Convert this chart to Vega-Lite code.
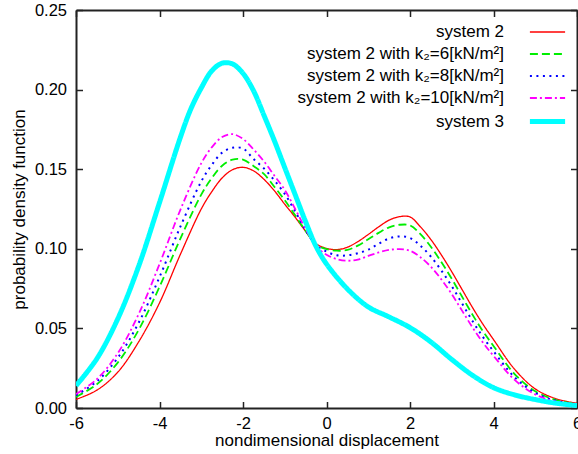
{
  "$schema": "https://vega.github.io/schema/vega-lite/v6.json",
  "width": 501,
  "height": 398,
  "autosize": "none",
  "padding": {"left": 76, "top": 10, "right": 1, "bottom": 46},
  "background": "white",
  "config": {
    "font": "Liberation Sans",
    "view": {"stroke": null},
    "axis": {
      "grid": false,
      "domainColor": "#222222",
      "domainWidth": 2,
      "tickColor": "#222222",
      "tickWidth": 1.5,
      "tickSize": -6.5,
      "labelFontSize": 16.5,
      "labelColor": "#000000",
      "titleFontSize": 17,
      "titleFontWeight": "normal",
      "titleColor": "#000000",
      "labelFlush": false,
      "labelOverlap": false
    }
  },
  "data": {
    "values": [
      {"s": "system 2", "x": -6, "y": 0.0054},
      {"s": "system 2", "x": -5.5, "y": 0.0112},
      {"s": "system 2", "x": -5, "y": 0.0225},
      {"s": "system 2", "x": -4.5, "y": 0.0415},
      {"s": "system 2", "x": -4, "y": 0.066},
      {"s": "system 2", "x": -3.5, "y": 0.0965},
      {"s": "system 2", "x": -3, "y": 0.125},
      {"s": "system 2", "x": -2.75, "y": 0.1358},
      {"s": "system 2", "x": -2.5, "y": 0.1445},
      {"s": "system 2", "x": -2.25, "y": 0.1497},
      {"s": "system 2", "x": -2, "y": 0.1512},
      {"s": "system 2", "x": -1.75, "y": 0.149},
      {"s": "system 2", "x": -1.5, "y": 0.1437},
      {"s": "system 2", "x": -1.25, "y": 0.1365},
      {"s": "system 2", "x": -1, "y": 0.128},
      {"s": "system 2", "x": -0.75, "y": 0.1198},
      {"s": "system 2", "x": -0.5, "y": 0.111},
      {"s": "system 2", "x": -0.25, "y": 0.1032},
      {"s": "system 2", "x": 0, "y": 0.1003},
      {"s": "system 2", "x": 0.25, "y": 0.0995},
      {"s": "system 2", "x": 0.5, "y": 0.101},
      {"s": "system 2", "x": 0.75, "y": 0.1045},
      {"s": "system 2", "x": 1, "y": 0.109},
      {"s": "system 2", "x": 1.25, "y": 0.1138},
      {"s": "system 2", "x": 1.5, "y": 0.118},
      {"s": "system 2", "x": 1.75, "y": 0.1202},
      {"s": "system 2", "x": 2, "y": 0.12},
      {"s": "system 2", "x": 2.25, "y": 0.1138},
      {"s": "system 2", "x": 2.5, "y": 0.1058},
      {"s": "system 2", "x": 2.75, "y": 0.0962},
      {"s": "system 2", "x": 3, "y": 0.0856},
      {"s": "system 2", "x": 3.25, "y": 0.0743},
      {"s": "system 2", "x": 3.5, "y": 0.063},
      {"s": "system 2", "x": 3.75, "y": 0.0525},
      {"s": "system 2", "x": 4, "y": 0.043},
      {"s": "system 2", "x": 4.5, "y": 0.0245},
      {"s": "system 2", "x": 5, "y": 0.012},
      {"s": "system 2", "x": 5.5, "y": 0.0058},
      {"s": "system 2", "x": 6, "y": 0.003},

      {"s": "system 2 with  k₂=6[kN/m²]", "x": -6, "y": 0.007},
      {"s": "system 2 with  k₂=6[kN/m²]", "x": -5.5, "y": 0.0149},
      {"s": "system 2 with  k₂=6[kN/m²]", "x": -5, "y": 0.0285},
      {"s": "system 2 with  k₂=6[kN/m²]", "x": -4.5, "y": 0.049},
      {"s": "system 2 with  k₂=6[kN/m²]", "x": -4, "y": 0.0761},
      {"s": "system 2 with  k₂=6[kN/m²]", "x": -3.5, "y": 0.1064},
      {"s": "system 2 with  k₂=6[kN/m²]", "x": -3, "y": 0.134},
      {"s": "system 2 with  k₂=6[kN/m²]", "x": -2.75, "y": 0.1443},
      {"s": "system 2 with  k₂=6[kN/m²]", "x": -2.5, "y": 0.1522},
      {"s": "system 2 with  k₂=6[kN/m²]", "x": -2.25, "y": 0.156},
      {"s": "system 2 with  k₂=6[kN/m²]", "x": -2, "y": 0.156},
      {"s": "system 2 with  k₂=6[kN/m²]", "x": -1.75, "y": 0.152},
      {"s": "system 2 with  k₂=6[kN/m²]", "x": -1.5, "y": 0.147},
      {"s": "system 2 with  k₂=6[kN/m²]", "x": -1.25, "y": 0.139},
      {"s": "system 2 with  k₂=6[kN/m²]", "x": -1, "y": 0.1305},
      {"s": "system 2 with  k₂=6[kN/m²]", "x": -0.75, "y": 0.121},
      {"s": "system 2 with  k₂=6[kN/m²]", "x": -0.5, "y": 0.1112},
      {"s": "system 2 with  k₂=6[kN/m²]", "x": -0.25, "y": 0.1026},
      {"s": "system 2 with  k₂=6[kN/m²]", "x": 0, "y": 0.0998},
      {"s": "system 2 with  k₂=6[kN/m²]", "x": 0.25, "y": 0.0988},
      {"s": "system 2 with  k₂=6[kN/m²]", "x": 0.5, "y": 0.0993},
      {"s": "system 2 with  k₂=6[kN/m²]", "x": 0.75, "y": 0.102},
      {"s": "system 2 with  k₂=6[kN/m²]", "x": 1, "y": 0.106},
      {"s": "system 2 with  k₂=6[kN/m²]", "x": 1.25, "y": 0.11},
      {"s": "system 2 with  k₂=6[kN/m²]", "x": 1.5, "y": 0.1135},
      {"s": "system 2 with  k₂=6[kN/m²]", "x": 1.75, "y": 0.1151},
      {"s": "system 2 with  k₂=6[kN/m²]", "x": 2, "y": 0.1147},
      {"s": "system 2 with  k₂=6[kN/m²]", "x": 2.25, "y": 0.1092},
      {"s": "system 2 with  k₂=6[kN/m²]", "x": 2.5, "y": 0.1013},
      {"s": "system 2 with  k₂=6[kN/m²]", "x": 2.75, "y": 0.0917},
      {"s": "system 2 with  k₂=6[kN/m²]", "x": 3, "y": 0.0812},
      {"s": "system 2 with  k₂=6[kN/m²]", "x": 3.25, "y": 0.0698},
      {"s": "system 2 with  k₂=6[kN/m²]", "x": 3.5, "y": 0.0585},
      {"s": "system 2 with  k₂=6[kN/m²]", "x": 3.75, "y": 0.0481},
      {"s": "system 2 with  k₂=6[kN/m²]", "x": 4, "y": 0.039},
      {"s": "system 2 with  k₂=6[kN/m²]", "x": 4.5, "y": 0.0215},
      {"s": "system 2 with  k₂=6[kN/m²]", "x": 5, "y": 0.0105},
      {"s": "system 2 with  k₂=6[kN/m²]", "x": 5.5, "y": 0.005},
      {"s": "system 2 with  k₂=6[kN/m²]", "x": 6, "y": 0.0025},

      {"s": "system 2 with k₂=8[kN/m²]", "x": -6, "y": 0.008},
      {"s": "system 2 with k₂=8[kN/m²]", "x": -5.5, "y": 0.0167},
      {"s": "system 2 with k₂=8[kN/m²]", "x": -5, "y": 0.0315},
      {"s": "system 2 with k₂=8[kN/m²]", "x": -4.5, "y": 0.0535},
      {"s": "system 2 with k₂=8[kN/m²]", "x": -4, "y": 0.0822},
      {"s": "system 2 with k₂=8[kN/m²]", "x": -3.5, "y": 0.1139},
      {"s": "system 2 with k₂=8[kN/m²]", "x": -3, "y": 0.1423},
      {"s": "system 2 with k₂=8[kN/m²]", "x": -2.75, "y": 0.1526},
      {"s": "system 2 with k₂=8[kN/m²]", "x": -2.5, "y": 0.1604},
      {"s": "system 2 with k₂=8[kN/m²]", "x": -2.25, "y": 0.1635},
      {"s": "system 2 with k₂=8[kN/m²]", "x": -2, "y": 0.163},
      {"s": "system 2 with k₂=8[kN/m²]", "x": -1.75, "y": 0.1565},
      {"s": "system 2 with k₂=8[kN/m²]", "x": -1.5, "y": 0.1505},
      {"s": "system 2 with k₂=8[kN/m²]", "x": -1.25, "y": 0.143},
      {"s": "system 2 with k₂=8[kN/m²]", "x": -1, "y": 0.1345},
      {"s": "system 2 with k₂=8[kN/m²]", "x": -0.75, "y": 0.1235},
      {"s": "system 2 with k₂=8[kN/m²]", "x": -0.5, "y": 0.1118},
      {"s": "system 2 with k₂=8[kN/m²]", "x": -0.25, "y": 0.1022},
      {"s": "system 2 with k₂=8[kN/m²]", "x": 0, "y": 0.0983},
      {"s": "system 2 with k₂=8[kN/m²]", "x": 0.25, "y": 0.0959},
      {"s": "system 2 with k₂=8[kN/m²]", "x": 0.5, "y": 0.0959},
      {"s": "system 2 with k₂=8[kN/m²]", "x": 0.75, "y": 0.0972},
      {"s": "system 2 with k₂=8[kN/m²]", "x": 1, "y": 0.0995},
      {"s": "system 2 with k₂=8[kN/m²]", "x": 1.25, "y": 0.1032},
      {"s": "system 2 with k₂=8[kN/m²]", "x": 1.5, "y": 0.1065},
      {"s": "system 2 with k₂=8[kN/m²]", "x": 1.75, "y": 0.1078},
      {"s": "system 2 with k₂=8[kN/m²]", "x": 2, "y": 0.1068},
      {"s": "system 2 with k₂=8[kN/m²]", "x": 2.25, "y": 0.102},
      {"s": "system 2 with k₂=8[kN/m²]", "x": 2.5, "y": 0.0951},
      {"s": "system 2 with k₂=8[kN/m²]", "x": 2.75, "y": 0.0864},
      {"s": "system 2 with k₂=8[kN/m²]", "x": 3, "y": 0.0765},
      {"s": "system 2 with k₂=8[kN/m²]", "x": 3.25, "y": 0.0655},
      {"s": "system 2 with k₂=8[kN/m²]", "x": 3.5, "y": 0.0545},
      {"s": "system 2 with k₂=8[kN/m²]", "x": 3.75, "y": 0.0445},
      {"s": "system 2 with k₂=8[kN/m²]", "x": 4, "y": 0.0357},
      {"s": "system 2 with k₂=8[kN/m²]", "x": 4.5, "y": 0.0195},
      {"s": "system 2 with k₂=8[kN/m²]", "x": 5, "y": 0.0095},
      {"s": "system 2 with k₂=8[kN/m²]", "x": 5.5, "y": 0.0045},
      {"s": "system 2 with k₂=8[kN/m²]", "x": 6, "y": 0.0022},

      {"s": "system 2 with k₂=10[kN/m²]", "x": -6, "y": 0.0088},
      {"s": "system 2 with k₂=10[kN/m²]", "x": -5.5, "y": 0.0181},
      {"s": "system 2 with k₂=10[kN/m²]", "x": -5, "y": 0.0344},
      {"s": "system 2 with k₂=10[kN/m²]", "x": -4.5, "y": 0.0589},
      {"s": "system 2 with k₂=10[kN/m²]", "x": -4, "y": 0.0904},
      {"s": "system 2 with k₂=10[kN/m²]", "x": -3.5, "y": 0.1245},
      {"s": "system 2 with k₂=10[kN/m²]", "x": -3, "y": 0.1537},
      {"s": "system 2 with k₂=10[kN/m²]", "x": -2.75, "y": 0.1637},
      {"s": "system 2 with k₂=10[kN/m²]", "x": -2.5, "y": 0.1702},
      {"s": "system 2 with k₂=10[kN/m²]", "x": -2.25, "y": 0.172},
      {"s": "system 2 with k₂=10[kN/m²]", "x": -2, "y": 0.169},
      {"s": "system 2 with k₂=10[kN/m²]", "x": -1.75, "y": 0.1625},
      {"s": "system 2 with k₂=10[kN/m²]", "x": -1.5, "y": 0.155},
      {"s": "system 2 with k₂=10[kN/m²]", "x": -1.25, "y": 0.146},
      {"s": "system 2 with k₂=10[kN/m²]", "x": -1, "y": 0.137},
      {"s": "system 2 with k₂=10[kN/m²]", "x": -0.75, "y": 0.125},
      {"s": "system 2 with k₂=10[kN/m²]", "x": -0.5, "y": 0.1125},
      {"s": "system 2 with k₂=10[kN/m²]", "x": -0.25, "y": 0.1018},
      {"s": "system 2 with k₂=10[kN/m²]", "x": 0, "y": 0.0963},
      {"s": "system 2 with k₂=10[kN/m²]", "x": 0.25, "y": 0.0935},
      {"s": "system 2 with k₂=10[kN/m²]", "x": 0.5, "y": 0.0925},
      {"s": "system 2 with k₂=10[kN/m²]", "x": 0.75, "y": 0.0932},
      {"s": "system 2 with k₂=10[kN/m²]", "x": 1, "y": 0.0955},
      {"s": "system 2 with k₂=10[kN/m²]", "x": 1.25, "y": 0.0977},
      {"s": "system 2 with k₂=10[kN/m²]", "x": 1.5, "y": 0.0993},
      {"s": "system 2 with k₂=10[kN/m²]", "x": 1.75, "y": 0.0998},
      {"s": "system 2 with k₂=10[kN/m²]", "x": 2, "y": 0.0988},
      {"s": "system 2 with k₂=10[kN/m²]", "x": 2.25, "y": 0.0947},
      {"s": "system 2 with k₂=10[kN/m²]", "x": 2.5, "y": 0.0887},
      {"s": "system 2 with k₂=10[kN/m²]", "x": 2.75, "y": 0.0808},
      {"s": "system 2 with k₂=10[kN/m²]", "x": 3, "y": 0.0715},
      {"s": "system 2 with k₂=10[kN/m²]", "x": 3.25, "y": 0.061},
      {"s": "system 2 with k₂=10[kN/m²]", "x": 3.5, "y": 0.0505},
      {"s": "system 2 with k₂=10[kN/m²]", "x": 3.75, "y": 0.041},
      {"s": "system 2 with k₂=10[kN/m²]", "x": 4, "y": 0.0328},
      {"s": "system 2 with k₂=10[kN/m²]", "x": 4.5, "y": 0.0178},
      {"s": "system 2 with k₂=10[kN/m²]", "x": 5, "y": 0.0085},
      {"s": "system 2 with k₂=10[kN/m²]", "x": 5.5, "y": 0.004},
      {"s": "system 2 with k₂=10[kN/m²]", "x": 6, "y": 0.0018},

      {"s": "system 3", "x": -6, "y": 0.014},
      {"s": "system 3", "x": -5.5, "y": 0.031},
      {"s": "system 3", "x": -5, "y": 0.056},
      {"s": "system 3", "x": -4.5, "y": 0.089},
      {"s": "system 3", "x": -4, "y": 0.129},
      {"s": "system 3", "x": -3.5, "y": 0.17},
      {"s": "system 3", "x": -3.25, "y": 0.1878},
      {"s": "system 3", "x": -3, "y": 0.201},
      {"s": "system 3", "x": -2.75, "y": 0.2117},
      {"s": "system 3", "x": -2.5, "y": 0.2166},
      {"s": "system 3", "x": -2.25, "y": 0.2161},
      {"s": "system 3", "x": -2, "y": 0.2102},
      {"s": "system 3", "x": -1.75, "y": 0.1994},
      {"s": "system 3", "x": -1.5, "y": 0.184},
      {"s": "system 3", "x": -1.25, "y": 0.168},
      {"s": "system 3", "x": -1, "y": 0.151},
      {"s": "system 3", "x": -0.75, "y": 0.134},
      {"s": "system 3", "x": -0.5, "y": 0.117},
      {"s": "system 3", "x": -0.25, "y": 0.1015},
      {"s": "system 3", "x": 0, "y": 0.0905},
      {"s": "system 3", "x": 0.5, "y": 0.0748},
      {"s": "system 3", "x": 1, "y": 0.0635},
      {"s": "system 3", "x": 1.5, "y": 0.0572},
      {"s": "system 3", "x": 2, "y": 0.0505},
      {"s": "system 3", "x": 2.5, "y": 0.0415},
      {"s": "system 3", "x": 3, "y": 0.0305},
      {"s": "system 3", "x": 3.5, "y": 0.0205},
      {"s": "system 3", "x": 4, "y": 0.0128},
      {"s": "system 3", "x": 4.5, "y": 0.0083},
      {"s": "system 3", "x": 5, "y": 0.0053},
      {"s": "system 3", "x": 5.5, "y": 0.003},
      {"s": "system 3", "x": 6, "y": 0.0015}
    ]
  },
  "layer": [
    {
      "mark": {"type": "line", "interpolate": "catmull-rom", "strokeCap": "butt", "clip": true},
      "encoding": {
        "x": {
          "field": "x", "type": "quantitative",
          "scale": {"domain": [-6, 6], "nice": false, "zero": false},
          "axis": {
            "orient": "bottom",
            "title": "nondimensional displacement",
            "values": [-6, -4, -2, 0, 2, 4, 6],
            "labelExpr": "toString(datum.value)",
            "labelPadding": 14,
            "titleY": 37,
            "titleBaseline": "alphabetic"
          }
        },
        "y": {
          "field": "y", "type": "quantitative",
          "scale": {"domain": [0, 0.25], "nice": false},
          "axis": {
            "orient": "left",
            "title": "probability density function",
            "values": [0, 0.05, 0.1, 0.15, 0.2, 0.25],
            "format": ".2f",
            "labelPadding": 16,
            "titleX": -57,
            "titleY": 199,
            "titleAlign": "center",
            "titleBaseline": "middle",
            "titleAngle": -90
          }
        },
        "color": {
          "field": "s", "type": "nominal",
          "scale": {
            "domain": ["system 2", "system 2 with  k₂=6[kN/m²]", "system 2 with k₂=8[kN/m²]", "system 2 with k₂=10[kN/m²]", "system 3"],
            "range": ["#ff0000", "#00ee00", "#0000ff", "#ff00ff", "#00ffff"]
          },
          "legend": {
            "title": null,
            "orient": "none",
            "legendX": 458,
            "legendY": 10,
            "padding": 0,
            "symbolType": "M-1.6,0H1.6",
            "symbolSize": 484,
            "labelAlign": "right",
            "labelOffset": -57,
            "labelFontSize": 17,
            "labelColor": "#000000",
            "labelLimit": 400,
            "rowPadding": 2
          }
        },
        "strokeDash": {
          "field": "s", "type": "nominal",
          "scale": {
            "domain": ["system 2", "system 2 with  k₂=6[kN/m²]", "system 2 with k₂=8[kN/m²]", "system 2 with k₂=10[kN/m²]", "system 3"],
            "range": [[1, 0], [8, 4], [2, 4.5], [7, 3, 2, 3], [1, 0]]
          }
        },
        "strokeWidth": {
          "field": "s", "type": "ordinal",
          "scale": {
            "type": "ordinal",
            "domain": ["system 2", "system 2 with  k₂=6[kN/m²]", "system 2 with k₂=8[kN/m²]", "system 2 with k₂=10[kN/m²]", "system 3"],
            "range": [1.3, 1.8, 2, 1.8, 5]
          }
        }
      }
    },
    {
      "mark": {"type": "line", "strokeOpacity": 0},
      "encoding": {
        "x": {
          "field": "x", "type": "quantitative",
          "axis": {"orient": "top", "labels": false, "title": null, "values": [-6, -4, -2, 0, 2, 4, 6]}
        },
        "y": {
          "field": "y", "type": "quantitative",
          "axis": {"orient": "right", "labels": false, "title": null, "values": [0, 0.05, 0.1, 0.15, 0.2, 0.25]}
        }
      }
    }
  ],
  "resolve": {"axis": {"x": "independent", "y": "independent"}}
}
